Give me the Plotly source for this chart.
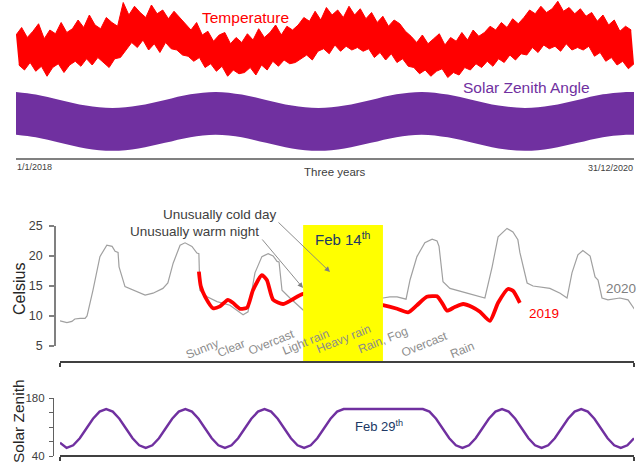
import plotly.graph_objects as go
import pandas as pd

W, H = 639, 465

# ---------------- data ----------------
# Top: three years of temperature (10-day high / low samples, pseudo Celsius)
temp_high = [18, 21, 17, 19.5, 22.5, 16.5, 20, 18.5, 23, 19,
             20.5, 24, 21, 26, 22, 20.5, 25, 23, 21.5, 31,
             26, 29.5, 27, 25, 30, 26.5, 28, 24.5, 27.5, 25,
             22.5, 20, 23, 18, 19.5, 15.5, 18, 19, 14.5, 17,
             15, 18.5, 16, 20.5, 17, 19, 22, 18, 21.5, 20,
             22, 25, 23.5, 27.5, 24, 29, 26, 28, 25, 29.5,
             26, 28.5, 24.5, 27, 23, 25.5, 21.5, 24, 22.5, 19.5,
             17.5, 15, 18, 14.5, 16.5, 18.5, 14, 17, 15.5, 19,
             16, 20, 17.5, 19, 21.5, 20, 23, 21, 24.5, 22.5,
             25, 28, 26.5, 29.5, 27, 28.5, 31.5, 27.5, 29, 26.5,
             28.5, 25.5, 27, 23.5, 26, 22, 24, 19.5, 21.5, 20]
temp_low = [6, 4, 7, 3.5, 5.5, 1.5, 5, 6.5, 3, 6,
            7.5, 5.5, 8.5, 6, 9, 7, 5, 8.5, 9, 12,
            15, 13, 16, 12, 14.5, 11, 15, 12.5, 12, 10,
            9.5, 7.5, 9, 5, 6.5, 3.5, 5.5, 1.5, 4, 2.5,
            3, 5, 2, 6, 4, 7.5, 5.5, 8, 6.5, 7,
            8.5, 10, 8, 11.5, 12.5, 10.5, 14, 11.5, 13.5, 12,
            13, 11.5, 12.5, 9, 11, 8, 10.5, 7, 8.5, 5.5,
            5, 2.5, 4, 1.5, 3.5, 4.5, 1, 3, 2, 5,
            4, 6.5, 5, 7.5, 5.5, 8.5, 7, 10, 8, 10.5,
            10, 13, 11, 14, 12.5, 13.5, 11.5, 14.5, 12, 13,
            12, 13.5, 9.5, 11, 7.5, 9, 6, 7.5, 4.5, 6.5]
high_dates = pd.date_range("2018-01-01", periods=len(temp_high), freq="10D")
low_dates = high_dates + pd.Timedelta(days=5)

# Solar zenith angle: daily maximum / minimum envelope over three years
band_dates = ["2018-01-01", "2018-02-05", "2018-03-20", "2018-05-05", "2018-06-21",
              "2018-08-06", "2018-09-22", "2018-11-06", "2018-12-21", "2019-02-05",
              "2019-03-20", "2019-05-05", "2019-06-21", "2019-08-06", "2019-09-22",
              "2019-11-06", "2019-12-21", "2020-02-05", "2020-03-20", "2020-05-05",
              "2020-06-21", "2020-08-06", "2020-09-22", "2020-11-06", "2020-12-21",
              "2020-12-31"]
zenith_max = [159.8, 154, 141.5, 128.5, 123, 128.5, 141.5, 154.5, 160, 154,
              141.5, 128.5, 123, 128.5, 141.5, 154.5, 160, 154, 141.5, 128.5,
              123, 128.5, 141.5, 154.5, 160, 159.8]
zenith_min = [60.8, 55, 42.5, 29.5, 24, 29.5, 42.5, 55.5, 61, 55,
              42.5, 29.5, 24, 29.5, 42.5, 55.5, 61, 55, 42.5, 29.5,
              24, 29.5, 42.5, 55.5, 61, 60.8]

# Middle: one week of hourly temperature around Feb 14th
hours_2020 = [0, 2.1, 3.6, 4.5, 6.1, 7.6, 8.2, 10.0, 12.1, 14.2, 15.8, 16.7, 17.6, 17.9,
              19.7, 22.1, 25.8, 28.2, 31.2, 32.7, 34.3, 36.4, 37.9, 40.0, 41.5, 42.1,
              42.4, 44.6, 47.6, 51.5, 53.7, 55.5, 57.0, 59.1, 61.2, 63.1, 64.6, 65.8,
              66.4, 67.3, 69.7, 73.7, 97.9, 100.0, 102.2, 104.9, 106.1, 108.2, 110.6,
              112.8, 114.3, 114.9, 116.1, 118.2, 123.4, 128.8, 131.0, 132.8, 135.5,
              137.3, 138.8, 139.4, 141.6, 143.4, 148.5, 151.6, 153.7, 155.2, 157.0,
              158.5, 160.7, 162.2, 163.1, 164.3, 166.1, 169.7, 172.2, 174.3]
temp_2020 = [9.2, 8.9, 9.1, 9.5, 9.6, 9.6, 10.0, 14.3, 19.9, 21.8, 21.6, 20.8, 20.6, 18.2,
             14.9, 14.3, 13.5, 13.8, 14.6, 15.5, 18.8, 21.8, 22.2, 21.6, 20.5, 20.4,
             14.3, 13.2, 12.4, 11.8, 11.0, 10.2, 10.7, 17.2, 19.9, 20.4, 20.0, 19.1,
             19.0, 14.3, 13.0, 11.0, 13.0, 13.2, 13.2, 12.8, 16.0, 19.9, 22.2,
             22.8, 22.5, 21.6, 15.7, 14.6, 13.8, 13.0, 18.2, 23.2, 24.6,
             24.0, 22.7, 20.6, 15.5, 15.0, 14.6, 13.8, 13.0, 17.2, 20.2,
             20.9, 20.0, 16.5, 16.0, 13.0, 12.7, 13.0, 12.7, 11.0]
hours_2019 = [42.1, 42.7, 44.0, 46.4, 48.5, 50.9, 52.4, 54.6, 56.7, 58.5, 61.2, 62.7,
              64.6, 67.6, 70.3, 73.7, 97.9, 102.2, 105.5, 108.2, 111.2, 113.1, 114.3,
              115.8, 117.3, 119.7, 122.2, 124.9, 127.3, 130.3, 132.8, 135.8, 137.3, 139.4]
temp_2019 = [17.4, 14.9, 13.2, 11.3, 11.6, 12.7, 12.2, 11.2, 11.4, 14.3, 16.8, 16.0,
             12.7, 12.0, 12.7, 13.7, 11.8, 11.2, 10.6, 11.8, 13.2, 13.3, 13.3,
             12.2, 10.9, 11.5, 12.0, 11.5, 10.7, 9.2, 12.2, 14.5, 14.2, 12.2]
feb14_span = [73.7, 97.9]
weather = ["Sunny", "Clear", "Overcast", "Light rain", "Heavy rain", "Rain, Fog",
           "Overcast", "Rain"]
weather_hours = [43.0, 52.0, 64.2, 74.5, 85.8, 97.9, 110.6, 121.9]
celsius_ticks = [5, 10, 15, 20, 25]

# Bottom: solar zenith angle, hourly, same week
zen_hours = [0, 2, 4, 6, 8, 10, 12, 14, 16, 18, 20, 22, 24, 26, 28, 30, 32, 34, 36, 38,
             40, 42, 44, 46, 48, 50, 52, 54, 56, 58, 60, 62, 64, 66, 68, 70, 72, 74, 76,
             78, 80, 82, 84, 86, 110, 112, 114, 116, 118, 120, 122, 124, 126, 128, 130,
             132, 134, 136, 138, 140, 142, 144, 146, 148, 150, 152, 154, 156, 158, 160,
             162, 164, 166, 168, 170, 172, 174]
zen_angle = [72, 59.4, 65.7, 82.9, 106.4, 129.9, 147.1, 153.4, 147.1, 129.9, 106.4, 82.9,
             65.7, 59.4, 65.7, 82.9, 106.4, 129.9, 147.1, 153.4, 147.1, 129.9, 106.4,
             82.9, 65.7, 59.4, 65.7, 82.9, 106.4, 129.9, 147.1, 153.4, 147.1, 129.9,
             106.4, 82.9, 65.7, 59.4, 65.7, 82.9, 106.4, 129.9, 147.1, 153.4, 153.4,
             147.1, 129.9, 106.4, 82.9, 65.7, 59.4, 65.7, 82.9, 106.4, 129.9, 147.1,
             153.4, 147.1, 129.9, 106.4, 82.9, 65.7, 59.4, 65.7, 82.9, 106.4, 129.9,
             147.1, 153.4, 147.1, 129.9, 106.4, 82.9, 65.7, 59.4, 65.7, 82.9]
zen_ticks = [40, 75, 110, 145, 180]
zen_ticktext = ["40", "", "", "", "180"]

# ---------------- helpers (pixel -> paper) ----------------
def fx(p):
    return p / W

def fy(p):
    return 1 - p / H

RED = "#FF0000"
PURPLE = "#7030A0"
GRAY = "#A0A0A0"
TXT = "#404040"
NAVY = "#203864"
FONT = "Liberation Sans, Arial, sans-serif"

fig = go.Figure()

# top temperature band (filled between the low and high samples)
fig.add_trace(go.Scatter(x=low_dates, y=temp_low, mode="lines",
                         line=dict(color=RED, width=1), xaxis="x", yaxis="y",
                         hoverinfo="skip"))
fig.add_trace(go.Scatter(x=high_dates, y=temp_high, mode="lines",
                         line=dict(color=RED, width=1), fill="tonexty",
                         fillcolor=RED, xaxis="x", yaxis="y", hoverinfo="skip"))
# solar zenith band
fig.add_trace(go.Scatter(x=band_dates, y=zenith_min, mode="lines",
                         line=dict(color=PURPLE, width=0, shape="spline"),
                         xaxis="x", yaxis="y4", hoverinfo="skip"))
fig.add_trace(go.Scatter(x=band_dates, y=zenith_max, mode="lines",
                         line=dict(color=PURPLE, width=0, shape="spline"),
                         fill="tonexty", fillcolor=PURPLE,
                         xaxis="x", yaxis="y4", hoverinfo="skip"))
# middle week
fig.add_trace(go.Scatter(x=hours_2020, y=temp_2020, mode="lines",
                         line=dict(color=GRAY, width=1.2), xaxis="x2", yaxis="y2"))
fig.add_trace(go.Scatter(x=hours_2019, y=temp_2019, mode="lines",
                         line=dict(color=RED, width=3.8, shape="spline", smoothing=0.6),
                         xaxis="x2", yaxis="y2"))
# bottom zenith
fig.add_trace(go.Scatter(x=zen_hours, y=zen_angle, mode="lines",
                         line=dict(color=PURPLE, width=2.4), xaxis="x3", yaxis="y3"))

fig.update_layout(
    width=W, height=H, margin=dict(l=0, r=0, t=0, b=0, pad=0),
    paper_bgcolor="white", plot_bgcolor="rgba(0,0,0,0)", showlegend=False,
    font=dict(family=FONT, color=TXT),
    xaxis=dict(domain=[fx(16), fx(634)], range=["2018-01-01", "2020-12-31"],
               anchor="free", position=fy(159), showline=True, linecolor="#808080",
               linewidth=1.5, ticks="inside", ticklen=4, tickcolor="#808080",
               tickwidth=1.5, tickvals=["2018-01-01", "2020-12-31"],
               showticklabels=False, showgrid=False, zeroline=False, automargin=False),
    yaxis=dict(domain=[fy(80), fy(0)], range=[0, 32], visible=False, anchor="x"),
    yaxis4=dict(domain=[fy(152.5), fy(89.8)], range=[20, 165], visible=False, anchor="x"),
    xaxis2=dict(domain=[fx(60), fx(634)], range=[0, 174], anchor="free",
                position=fy(362), showline=True, linecolor="#404040", linewidth=1.5,
                ticks="outside", ticklen=4, tickcolor="#404040", tickwidth=1.5,
                tickvals=[0, 174], showticklabels=False, showgrid=False,
                zeroline=False, automargin=False),
    yaxis2=dict(domain=[fy(346), fy(226)], range=[5, 25], anchor="free",
                position=fx(55), showline=True, linecolor="#808080", linewidth=1.5,
                ticks="outside", ticklen=5, tickcolor="#808080", tickwidth=1.5,
                tickvals=celsius_ticks, tickfont=dict(size=12.5, color=TXT),
                ticklabelstandoff=4, showgrid=False, zeroline=False, automargin=False),
    xaxis3=dict(domain=[fx(60), fx(634)], range=[0, 174], anchor="free",
                position=fy(456), showline=True, linecolor="#404040", linewidth=1.5,
                ticks="outside", ticklen=4, tickcolor="#404040", tickwidth=1.5,
                tickvals=[0, 174], showticklabels=False, showgrid=False,
                zeroline=False, automargin=False),
    yaxis3=dict(domain=[fy(456), fy(398)], range=[40, 180], anchor="free",
                position=fx(53), showline=True, linecolor="#606060", linewidth=1.2,
                ticks="outside", ticklen=4, tickcolor="#606060", tickwidth=1.2,
                tickvals=zen_ticks, ticktext=zen_ticktext,
                tickfont=dict(size=11.5, color=TXT), ticklabelstandoff=2,
                showgrid=False, zeroline=False, automargin=False),
)

# Feb 14th highlight
fig.add_shape(type="rect", xref="x2", yref="paper", x0=feb14_span[0], x1=feb14_span[1],
              y0=fy(361), y1=fy(225), fillcolor="#FFFF00", line=dict(width=0),
              layer="above")

def txt(text, x, y, size, color, xanchor="center", angle=0, yanchor="middle"):
    fig.add_annotation(text=text, x=fx(x), y=fy(y), xref="paper", yref="paper",
                       showarrow=False, xanchor=xanchor, yanchor=yanchor,
                       textangle=angle, font=dict(size=size, color=color, family=FONT))

txt("Temperature", 245, 18, 15.5, RED)
txt("Solar Zenith Angle", 526, 88, 15.5, PURPLE)
txt("1/1/2018", 15, 167, 9, TXT, xanchor="left")
txt("31/12/2020", 635, 168, 9, TXT, xanchor="right")
txt("Three years", 335, 172, 11.5, TXT)
txt("Unusually cold day", 220, 214, 13.5, TXT)
txt("Unusually warm night", 194, 231, 13.5, TXT)
txt("Feb 14<sup>th</sup>", 313, 238, 15, NAVY, xanchor="left")
txt("2019", 527, 313, 13.5, RED, xanchor="left")
txt("2020", 604, 288, 13.5, "#808080", xanchor="left")
txt("Celsius", 19, 289, 16, "#262626", angle=-90)
txt("Solar Zenith", 18, 421, 15.5, "#262626", angle=-90)
txt("Feb 29<sup>th</sup>", 353, 426, 13, NAVY, xanchor="left")

# weather labels (positioned on the hour axis)
weather_y = [364, 363, 360, 360, 359, 359, 362, 364]
for lab, h, yy in zip(weather, weather_hours, weather_y):
    fig.add_annotation(text=lab, x=h, xref="x2", y=fy(yy), yref="paper",
                       showarrow=False, textangle=-22,
                       font=dict(size=12, color="#8C8C8C", family=FONT))

# arrows
for head, tail in [((303, 288), (261, 238)), ((330, 272), (277, 221))]:
    fig.add_annotation(text="", x=fx(head[0]), y=fy(head[1]), xref="paper", yref="paper",
                       ax=tail[0] - head[0], ay=tail[1] - head[1], axref="pixel",
                       ayref="pixel", showarrow=True, arrowhead=2, arrowsize=1.2,
                       arrowwidth=0.9, arrowcolor="#808080")

fig.write_html("out.html", config={"displayModeBar": False},
               post_script="document.body.style.margin='0';"
                           "document.body.style.overflow='hidden';")
